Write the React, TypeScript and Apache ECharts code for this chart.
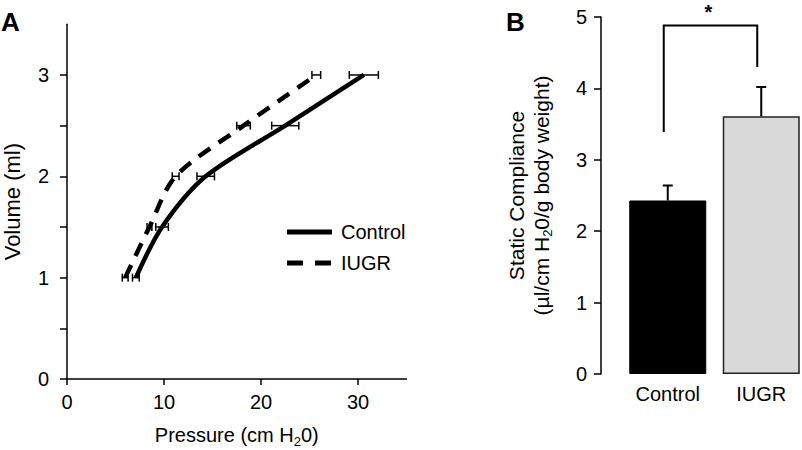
import React, { useEffect, useRef } from "react";
import * as echarts from "echarts";

// Panel A: pressure-volume curves
const volumes = [1, 1.5, 2, 2.5, 3];
const controlPressure = [7.1, 9.8, 14.3, 22.5, 30.6];
const controlSem = [0.35, 0.65, 0.9, 1.4, 1.5];
const iugrPressure = [6.0, 8.5, 11.2, 18.2, 25.7];
const iugrSem = [0.3, 0.25, 0.35, 0.7, 0.45];
const xTicksA = [0, 10, 20, 30];
const yTicksA = [0, 0.5, 1, 1.5, 2, 2.5, 3];
const yLabelsA = [0, 1, 2, 3];

// Panel B: static compliance
const groups = ["Control", "IUGR"];
const compliance = [2.43, 3.61];
const complianceSem = [0.21, 0.41];
const bracket = [3.39, 4.88, 4.3]; // left leg bottom, top, right leg bottom

const FONT = "'Liberation Sans', Arial, Helvetica, sans-serif";

export default function App() {
  const ref = useRef<HTMLDivElement>(null);
  useEffect(() => {
    document.body.style.margin = "0";
    const chart = echarts.init(ref.current!, null, { renderer: "svg" });

    const errA = (px: number[], sem: number[]) =>
      px.map((p, i) => [p, volumes[i], sem[i]]);

    const renderErrA = (params: any, api: any) => {
      const p = api.value(0), v = api.value(1), e = api.value(2);
      const l = api.coord([p - e, v]);
      const r = api.coord([p + e, v]);
      const st = { stroke: "#000", lineWidth: 1.5 };
      return {
        type: "group",
        children: [
          { type: "line", shape: { x1: l[0], y1: l[1], x2: r[0], y2: r[1] }, style: st },
          { type: "line", shape: { x1: l[0], y1: l[1] - 4, x2: l[0], y2: l[1] + 4 }, style: st },
          { type: "line", shape: { x1: r[0], y1: r[1] - 4, x2: r[0], y2: r[1] + 4 }, style: st },
        ],
      };
    };

    const sub = { fontSize: 13, fontFamily: FONT, color: "#000", verticalAlign: "bottom", padding: [13, 0, 0, 0] };

    const option: any = {
      animation: false,
      textStyle: { fontFamily: FONT, color: "#000" },
      grid: [
        { left: 67, top: 24.3, width: 339.5, height: 354.7, outerBoundsMode: "none", containLabel: false },
        { left: 621, top: 17, width: 187, height: 357, outerBoundsMode: "none", containLabel: false },
      ],
      xAxis: [
        {
          gridIndex: 0,
          type: "value",
          min: 0,
          max: 35,
          interval: 10,
          splitLine: { show: false },
          axisLine: { show: true, lineStyle: { color: "#000", width: 1.5 } },
          axisTick: { show: true, length: 6, customValues: xTicksA, lineStyle: { color: "#000", width: 1.5 } },
          axisLabel: { customValues: xTicksA, fontSize: 20, color: "#000", margin: 13, fontFamily: FONT },
          name: "Pressure (cm H{sub|2}0)",
          nameLocation: "middle",
          nameGap: 43,
          nameTextStyle: { fontSize: 20, color: "#000", fontFamily: FONT, rich: { sub } },
        },
        {
          gridIndex: 1,
          type: "category",
          data: groups,
          axisLine: { show: false },
          axisTick: { show: false },
          axisLabel: { fontSize: 20, color: "#000", margin: 10, fontFamily: FONT },
        },
      ],
      yAxis: [
        {
          gridIndex: 0,
          type: "value",
          min: 0,
          max: 3.5,
          interval: 0.5,
          splitLine: { show: false },
          axisLine: { show: true, lineStyle: { color: "#000", width: 1.5 } },
          axisTick: { show: true, length: 7, customValues: yTicksA, lineStyle: { color: "#000", width: 1.5 } },
          axisLabel: { customValues: yLabelsA, fontSize: 20, color: "#000", margin: 18, fontFamily: FONT },
          name: "Volume (ml)",
          nameLocation: "middle",
          nameGap: 44,
          nameTextStyle: { fontSize: 22, color: "#000", fontFamily: FONT },
        },
        {
          gridIndex: 1,
          type: "value",
          min: 0,
          max: 5,
          interval: 1,
          offset: 20,
          splitLine: { show: false },
          axisLine: { show: true, lineStyle: { color: "#000", width: 1.5 } },
          axisTick: { show: true, length: 7, lineStyle: { color: "#000", width: 1.5 } },
          axisLabel: { fontSize: 20, color: "#000", margin: 14, fontFamily: FONT },
          name: "Static Compliance\n(\u00b5l/cm H{sub|2}0/g body weight)",
          nameLocation: "middle",
          nameGap: 47,
          nameTextStyle: { fontSize: 21, lineHeight: 25, color: "#000", fontFamily: FONT, rich: { sub: { ...sub, fontSize: 13 } } },
        },
      ],
      graphic: [
        { type: "text", left: 1, top: 9, style: { text: "A", font: `bold 26px ${FONT}`, fill: "#000" } },
        { type: "text", left: 506, top: 9, style: { text: "B", font: `bold 26px ${FONT}`, fill: "#000" } },
        { type: "line", shape: { x1: 287, y1: 232, x2: 332, y2: 232 }, style: { stroke: "#000", lineWidth: 5 } },
        { type: "text", x: 341, y: 232, style: { text: "Control", font: `20px ${FONT}`, fill: "#000", verticalAlign: "middle" } },
        { type: "line", shape: { x1: 287, y1: 263, x2: 332, y2: 263 }, style: { stroke: "#000", lineWidth: 5, lineDash: [16, 12] } },
        { type: "text", x: 341, y: 263, style: { text: "IUGR", font: `20px ${FONT}`, fill: "#000", verticalAlign: "middle" } },
      ],
      series: [
        {
          type: "line",
          xAxisIndex: 0,
          yAxisIndex: 0,
          data: controlPressure.map((p, i) => [p, volumes[i]]),
          smooth: 0.3,
          symbol: "none",
          lineStyle: { color: "#000", width: 4.5 },
          z: 3,
        },
        {
          type: "line",
          xAxisIndex: 0,
          yAxisIndex: 0,
          data: iugrPressure.map((p, i) => [p, volumes[i]]),
          smooth: 0.3,
          symbol: "none",
          lineStyle: { color: "#000", width: 4.5, type: [14, 10] },
          z: 3,
        },
        {
          type: "custom",
          xAxisIndex: 0,
          yAxisIndex: 0,
          data: errA(controlPressure, controlSem),
          renderItem: renderErrA,
          z: 4,
        },
        {
          type: "custom",
          xAxisIndex: 0,
          yAxisIndex: 0,
          data: errA(iugrPressure, iugrSem),
          renderItem: renderErrA,
          z: 4,
        },
        {
          type: "bar",
          xAxisIndex: 1,
          yAxisIndex: 1,
          barWidth: 77,
          data: compliance.map((v, i) => ({
            value: v,
            itemStyle:
              i === 0
                ? { color: "#000", borderColor: "#000", borderWidth: 1 }
                : { color: "#d9d9d9", borderColor: "#222", borderWidth: 1.5 },
          })),
        },
        {
          type: "custom",
          xAxisIndex: 1,
          yAxisIndex: 1,
          data: compliance.map((v, i) => [i, v, complianceSem[i]]),
          renderItem: (params: any, api: any) => {
            const i = api.value(0), v = api.value(1), e = api.value(2);
            const b = api.coord([i, v]);
            const t = api.coord([i, v + e]);
            const st = { stroke: "#000", lineWidth: 2 };
            return {
              type: "group",
              children: [
                { type: "line", shape: { x1: b[0], y1: b[1], x2: t[0], y2: t[1] }, style: st },
                { type: "line", shape: { x1: t[0] - 5, y1: t[1], x2: t[0] + 5, y2: t[1] }, style: st },
              ],
            };
          },
          z: 4,
        },
        {
          type: "custom",
          xAxisIndex: 1,
          yAxisIndex: 1,
          data: [bracket],
          renderItem: (params: any, api: any) => {
            const lb = api.value(0), top = api.value(1), rb = api.value(2);
            const a = api.coord([0, lb]);
            const at = api.coord([0, top]);
            const bt = api.coord([1, top]);
            const b = api.coord([1, rb]);
            const x0 = a[0] - 4, x1 = b[0] - 4;
            return {
              type: "group",
              children: [
                {
                  type: "polyline",
                  shape: { points: [[x0, a[1]], [x0, at[1]], [x1, bt[1]], [x1, b[1]]] },
                  style: { stroke: "#000", lineWidth: 2, fill: null },
                },
                {
                  type: "text",
                  x: (x0 + x1) / 2 - 2,
                  y: at[1] - 14,
                  style: { text: "*", font: `bold 20px ${FONT}`, fill: "#000", align: "center", verticalAlign: "middle" },
                },
              ],
            };
          },
          z: 4,
        },
      ],
    };
    chart.setOption(option);
    return () => chart.dispose();
  }, []);
  return <div ref={ref} style={{ width: 802, height: 450, position: "absolute", left: 0, top: 0 }} />;
}
